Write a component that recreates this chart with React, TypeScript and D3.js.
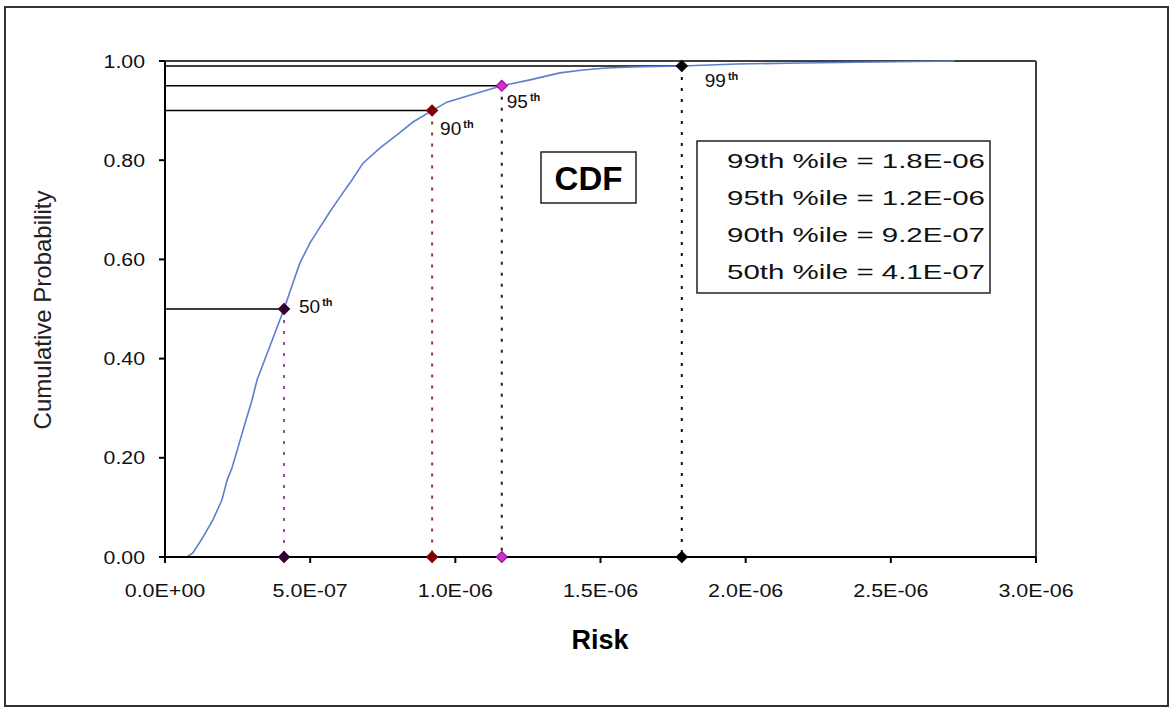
import React from "react";
import * as d3 from "d3";

// CDF curve (risk, cumulative probability)
const curveRisk = [0, 0.76e-7, 0.96e-7, 1.31e-7, 1.65e-7, 1.96e-7, 2.14e-7, 2.31e-7, 2.51e-7, 2.76e-7, 3.0e-7, 3.17e-7, 4.1e-7, 4.48e-7, 4.65e-7, 4.99e-7, 5.34e-7, 5.68e-7, 6.03e-7, 6.44e-7, 6.82e-7, 7.41e-7, 7.99e-7, 8.54e-7, 9.2e-7, 9.71e-7, 10.5e-7, 11.6e-7, 12.57e-7, 13.6e-7, 14.4e-7, 15.2e-7, 16.1e-7, 17.8e-7, 19.7e-7, 21.9e-7, 24.5e-7, 27.2e-7];
const curveProb = [0, 0, 0.008, 0.04, 0.075, 0.115, 0.155, 0.18, 0.22, 0.27, 0.317, 0.357, 0.5, 0.565, 0.593, 0.633, 0.665, 0.696, 0.726, 0.76, 0.794, 0.825, 0.851, 0.877, 0.9, 0.917, 0.931, 0.95, 0.962, 0.976, 0.982, 0.986, 0.988, 0.99, 0.994, 0.996, 0.998, 1.0];

// percentiles
const pctNames = ["50", "90", "95", "99"];
const pctProb = [0.5, 0.9, 0.95, 0.99];
const pctRisk = [4.1e-7, 9.2e-7, 1.16e-6, 1.78e-6];
const pctMarkerFill = ["#330033", "#800000", "#CC33CC", "#000000"];
const pctMarkerStroke = ["#330033", "#800000", "#990099", "#000000"];
const pctDotColor = ["#994C99", "#993333", "#222222", "#111111"];

const legendLines = ["99th %ile = 1.8E-06", "95th %ile = 1.2E-06", "90th %ile = 9.2E-07", "50th %ile = 4.1E-07"];

const xTicks = [0, 5e-7, 1e-6, 1.5e-6, 2e-6, 2.5e-6, 3e-6];
const xTickLabels = ["0.0E+00", "5.0E-07", "1.0E-06", "1.5E-06", "2.0E-06", "2.5E-06", "3.0E-06"];
const yTicks = [0, 0.2, 0.4, 0.6, 0.8, 1.0];
const yTickLabels = ["0.00", "0.20", "0.40", "0.60", "0.80", "1.00"];

const FONT = "'Liberation Sans', Arial, sans-serif";

export default function App() {
  const W = 1175, H = 713;
  const left = 165, right = 1036, top = 61, bottom = 557;
  const x = d3.scaleLinear().domain([0, 3e-6]).range([left, right]);
  const y = d3.scaleLinear().domain([0, 1]).range([bottom, top]);

  const pts: [number, number][] = curveRisk.map((r, i) => [r, curveProb[i]]);
  const line = d3.line<[number, number]>().x(d => x(d[0])).y(d => y(d[1]));
  const diamond = d3.symbol().type(d3.symbolSquare).size(62)() as string;

  const labelOffsets: [number, number][] = [[15, 4], [8, 24], [5, 22], [23, 21]];

  return (
    <svg width={W} height={H} style={{ position: "absolute", left: 0, top: 0, background: "#fff" }} fontFamily={FONT}>
      <rect x={0} y={0} width={W} height={H} fill="#fff" />
      {/* outer frame */}
      <rect x={5} y={7} width={1163} height={699} fill="none" stroke="#333" strokeWidth={2} />

      {/* plot border top/right */}
      <line x1={left} y1={top} x2={right} y2={top} stroke="#404040" strokeWidth={2} />
      <line x1={right} y1={top} x2={right} y2={bottom} stroke="#404040" strokeWidth={2} />

      {/* horizontal lines to percentiles */}
      {pctProb.map((p, i) => (
        <line key={"h" + i} x1={left} x2={x(pctRisk[i])} y1={y(p)} y2={y(p)} stroke="#000" strokeWidth={1.5} />
      ))}
      {/* vertical dotted lines */}
      {pctProb.map((p, i) => (
        <line key={"v" + i} x1={x(pctRisk[i])} x2={x(pctRisk[i])} y1={y(p)} y2={y(0)} stroke={pctDotColor[i]} strokeWidth={2} strokeDasharray="3,8" />
      ))}

      {/* CDF curve */}
      <path d={line(pts) || ""} fill="none" stroke="#5B7FCF" strokeWidth={1.6} />

      {/* axes */}
      <line x1={left} y1={top} x2={left} y2={bottom} stroke="#000" strokeWidth={2} />
      <line x1={left} y1={bottom} x2={right} y2={bottom} stroke="#000" strokeWidth={2} />
      {yTicks.map((t, i) => (
        <g key={"yt" + i}>
          <line x1={left - 6} x2={left} y1={y(t)} y2={y(t)} stroke="#000" strokeWidth={2} />
          <g transform={`translate(145,${y(t)}) scale(1.12,1)`}>
            <text x={0} y={0} textAnchor="end" dominantBaseline="central" fontSize={19} fill="#111">{yTickLabels[i]}</text>
          </g>
        </g>
      ))}
      {xTicks.map((t, i) => (
        <g key={"xt" + i}>
          <line x1={x(t)} x2={x(t)} y1={bottom} y2={bottom + 6} stroke="#000" strokeWidth={2} />
          <g transform={`translate(${x(t)},597) scale(1.13,1)`}>
            <text x={0} y={0} textAnchor="middle" fontSize={19} fill="#111">{xTickLabels[i]}</text>
          </g>
        </g>
      ))}

      {/* markers */}
      {pctProb.map((p, i) => (
        <g key={"m" + i}>
          <path d={diamond} transform={`translate(${x(pctRisk[i])},${y(p)}) rotate(45)`} fill={pctMarkerFill[i]} stroke={pctMarkerStroke[i]} strokeWidth={1} />
          <path d={diamond} transform={`translate(${x(pctRisk[i])},${y(0)}) rotate(45)`} fill={pctMarkerFill[i]} stroke={pctMarkerStroke[i]} strokeWidth={1} />
          <text x={x(pctRisk[i]) + labelOffsets[i][0]} y={y(p) + labelOffsets[i][1]} fontSize={19} fill="#111">
            {pctNames[i]}
            <tspan dx={2} dy={-7} fontSize={11} fontWeight="bold">th</tspan>
          </text>
        </g>
      ))}

      {/* CDF box */}
      <rect x={541} y={152} width={95} height={51} fill="#fff" stroke="#222" strokeWidth={1.5} />
      <text x={588.5} y={190} textAnchor="middle" fontSize={33} fontWeight="bold" fill="#000">CDF</text>

      {/* legend box */}
      <rect x={697} y={141} width={293} height={152} fill="#fff" stroke="#222" strokeWidth={1.5} />
      {legendLines.map((s, i) => (
        <text key={"lg" + i} x={727} y={168 + i * 37} fontSize={21} fill="#111" textLength={258} lengthAdjust="spacingAndGlyphs">{s}</text>
      ))}

      {/* axis titles */}
      <text x={600} y={649} textAnchor="middle" fontSize={27} fontWeight="bold" fill="#000">Risk</text>
      <text transform={`translate(42,310) rotate(-90)`} textAnchor="middle" dominantBaseline="central" fontSize={24} fill="#222">Cumulative Probability</text>
    </svg>
  );
}
